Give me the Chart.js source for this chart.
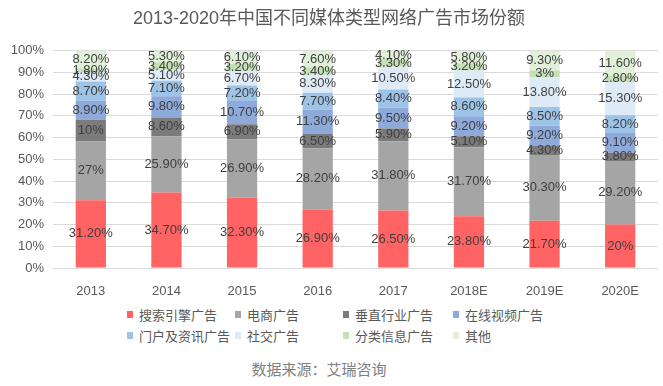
<!DOCTYPE html>
<html>
<head>
<meta charset="utf-8">
<script src="https://cdn.jsdelivr.net/npm/chart.js@4.4.0/dist/chart.umd.min.js"></script>
<style>
  body { margin: 0; background: #fff; }
  #wrap { position: relative; width: 663px; height: 386px; font-family: "Liberation Sans", "Noto Sans CJK SC", sans-serif; }
  #box { position: absolute; left: 0; top: 0; width: 663px; height: 300px; }
  #legend { position: absolute; left: 127px; top: 305px; display: grid;
    grid-template-columns: 108px 108px 110px 100px; row-gap: 3px; font-size: 13px; color: #595959; }
  #legend div { display: flex; align-items: center; height: 18px; white-space: nowrap; }
  #legend span.sw { display: inline-block; width: 6px; height: 7px; margin-right: 6px; }
  #source { position: absolute; left: 0; width: 638px; top: 358px; text-align: center; font-size: 15px; color: #808080; }
</style>
</head>
<body>
<div id="wrap">
  <div id="box"><canvas id="myChart"></canvas></div>
  <div id="legend"></div>
  <div id="source">数据来源：艾瑞咨询</div>
</div>
<script>
const ctx = document.getElementById('myChart');

const years = ['2013', '2014', '2015', '2016', '2017', '2018E', '2019E', '2020E']
const seriesNames = ['搜索引擎广告', '电商广告', '垂直行业广告', '在线视频广告', '门户及资讯广告', '社交广告', '分类信息广告', '其他']
const colors = ['#ff6363', '#a5a5a5', '#7b7b7b', '#8eaadb', '#9dc3e6', '#deebf7', '#c5e0b4', '#e2f0d9']

const search = [31.2, 34.7, 32.3, 26.9, 26.5, 23.8, 21.7, 20]
const ecom = [27, 25.9, 26.9, 28.2, 31.8, 31.7, 30.3, 29.2]
const vertical = [10, 8.6, 6.9, 6.5, 5.9, 5.1, 4.3, 3.8]
const video = [8.9, 9.8, 10.7, 11.3, 9.5, 9.2, 9.2, 9.1]
const portal = [8.7, 7.1, 7.2, 7.7, 8.4, 8.6, 8.5, 8.2]
const social = [4.3, 5.1, 6.7, 8.3, 10.5, 12.5, 13.8, 15.3]
const classified = [1.8, 3.4, 3.2, 3.4, 3.3, 3.2, 3, 2.8]
const other = [8.2, 5.3, 6.1, 7.6, 4.1, 5.8, 9.3, 11.6]

const allSeries = [search, ecom, vertical, video, portal, social, classified, other]

function fmt(v) {
  return Number.isInteger(v) ? v + '%' : v.toFixed(2) + '%'
}

// labels in the middle of every segment
const segLabels = {
  id: 'segLabels',
  afterDatasetsDraw(chart) {
    const c = chart.ctx
    c.save()
    c.font = '13px "Liberation Sans", sans-serif'
    c.fillStyle = '#404040'
    c.textAlign = 'center'
    c.textBaseline = 'middle'
    chart.data.datasets.forEach((ds, i) => {
      chart.getDatasetMeta(i).data.forEach((bar, j) => {
        c.fillText(fmt(ds.data[j]), bar.x, (bar.y + bar.base) / 2)
      })
    })
    c.restore()
  }
}

let chart_1 = new Chart(ctx, {
  type: 'bar',
  data: {
    labels: years,
    datasets: allSeries.map((d, i) => ({
      label: seriesNames[i],
      data: d,
      backgroundColor: colors[i],
      borderWidth: 0,
      barPercentage: 0.8,
      categoryPercentage: 0.5
    }))
  },
  options: {
    responsive: true,
    maintainAspectRatio: false,
    animation: false,
    layout: { padding: { left: 0, right: 5, top: 0, bottom: 0 } },
    plugins: {
      legend: { display: false },
      tooltip: { enabled: false },
      title: {
        display: true,
        text: '2013-2020年中国不同媒体类型网络广告市场份额',
        color: '#595959',
        font: { size: 18, family: '"Liberation Sans", "Noto Sans CJK SC", sans-serif', weight: 'normal' },
        padding: { top: 8, bottom: 21 }
      }
    },
    scales: {
      x: {
        stacked: true,
        grid: { display: false },
        border: { display: false },
        ticks: { color: '#595959', padding: 8, font: { size: 13, family: '"Liberation Sans", sans-serif' } },
        afterFit: s => { s.height = 32 }
      },
      y: {
        stacked: true,
        min: 0,
        max: 100,
        grid: { color: '#d9d9d9', drawTicks: false },
        border: { display: false },
        ticks: {
          stepSize: 10,
          padding: 9,
          color: '#595959',
          font: { size: 13, family: '"Liberation Sans", sans-serif' },
          callback: v => v + '%'
        },
        afterFit: s => { s.width = 53 }
      }
    }
  },
  plugins: [segLabels]
});

// legend as a grid, two rows of four
const legendBox = document.getElementById('legend')
seriesNames.forEach((name, i) => {
  const item = document.createElement('div')
  item.innerHTML = '<span class="sw" style="background:' + colors[i] + '"></span>' + name
  legendBox.appendChild(item)
})
</script>
</body>
</html>
